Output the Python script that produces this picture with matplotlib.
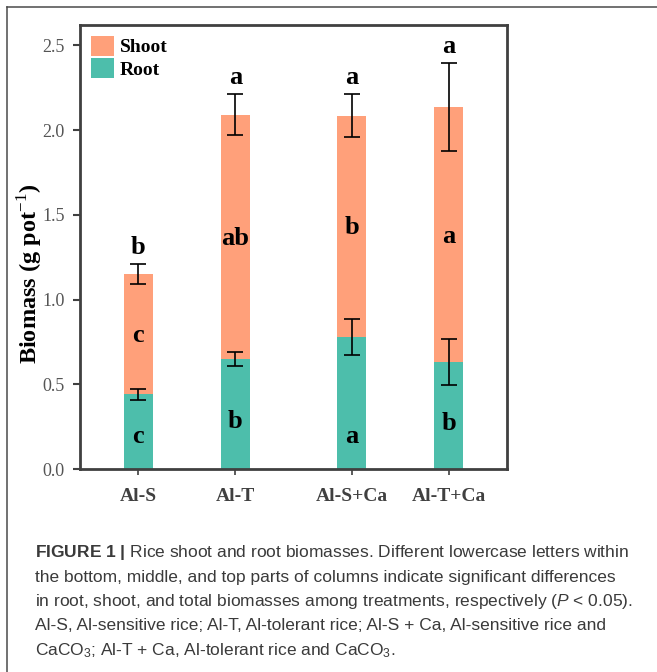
import matplotlib
matplotlib.use("Agg")
import matplotlib.pyplot as plt
from matplotlib.patches import Patch
from matplotlib.lines import Line2D

# Treatments and biomass data (g pot^-1)
treatments = ["Al-S", "Al-T", "Al-S+Ca", "Al-T+Ca"]
root = [0.44, 0.65, 0.78, 0.63]
root_err = [0.03, 0.04, 0.105, 0.135]
total = [1.15, 2.09, 2.085, 2.135]
total_err = [0.06, 0.12, 0.125, 0.26]
root_letters = ["c", "b", "a", "b"]
shoot_letters = ["c", "ab", "b", "a"]
total_letters = ["b", "a", "a", "a"]

shoot = [t - r for t, r in zip(total, root)]

plt.rcParams["mathtext.fontset"] = "custom"
plt.rcParams["mathtext.rm"] = "Liberation Serif"
plt.rcParams["mathtext.sf"] = "Liberation Sans"
plt.rcParams["mathtext.it"] = "Liberation Sans:italic"
plt.rcParams["mathtext.bf"] = "Liberation Sans:bold"

SHOOT_C = "#FFA07A"
ROOT_C = "#4DBEAB"
SERIF = "Liberation Serif"

fig = plt.figure(figsize=(6.57, 6.72), dpi=100)
W, H = 657, 672
ax = fig.add_axes([80 / W, 1 - 469 / H, (507 - 80) / W, (469 - 25) / H])

xpos = [0, 1, 2.2, 3.2]
bw = 0.3
ax.bar(xpos, root, width=bw, color=ROOT_C, zorder=2)
ax.bar(xpos, shoot, width=bw, bottom=root, color=SHOOT_C, zorder=2)
ax.errorbar(xpos, root, yerr=root_err, fmt="none", ecolor="black",
            elinewidth=1.2, capsize=6, capthick=1.2, zorder=3)
ax.errorbar(xpos, total, yerr=total_err, fmt="none", ecolor="black",
            elinewidth=1.2, capsize=6, capthick=1.2, zorder=3)

# heights of the letters drawn inside the root segments
root_lab_y = [0.19, 0.28, 0.19, 0.27]

lab_kw = dict(ha="center", va="center", fontsize=19, fontweight="bold",
              family=SERIF, color="black", zorder=4)
for x, r, t, te, ry, rl, sl, tl in zip(xpos, root, total, total_err, root_lab_y,
                                       root_letters, shoot_letters, total_letters):
    ax.text(x, ry, rl, **lab_kw)
    ax.text(x, (r + t) / 2 - 0.01, sl, **lab_kw)
    ax.text(x, t + te + 0.1, tl, **lab_kw)

ax.set_xlim(-0.6, 3.8)
ax.set_ylim(0, 2.62)
ax.set_yticks([0.0, 0.5, 1.0, 1.5, 2.0, 2.5])
ax.set_yticklabels(["0.0", "0.5", "1.0", "1.5", "2.0", "2.5"],
                   family=SERIF, fontsize=13, color="#555555")
ax.set_xticks(xpos)
ax.set_xticklabels(treatments, family=SERIF, fontsize=14,
                   fontweight="bold", color="#404040")
ax.tick_params(axis="y", direction="out", length=5, width=1.5,
               color="#404040", pad=6)
ax.tick_params(axis="x", direction="out", length=4, width=1.2,
               color="#404040", pad=10)
for s in ax.spines.values():
    s.set_color("#404040")
    s.set_linewidth(2)

ax.set_ylabel(r"Biomass (g pot$^{-1}$)", family=SERIF, fontsize=17.5,
              fontweight="bold")
ax.yaxis.set_label_coords(-36 / 427, 0.44)

handles = [Patch(facecolor=SHOOT_C, label="Shoot"),
           Patch(facecolor=ROOT_C, label="Root")]
leg = ax.legend(handles=handles, loc="upper left", frameon=False,
                prop=dict(family=SERIF, weight="bold", size=14),
                handlelength=1.2, handleheight=1.2, handletextpad=0.3,
                labelspacing=0.1, borderaxespad=0.25, borderpad=0.3)

# outer frame of the figure panel
frame_c = "#4a4a4a"
fig.add_artist(Line2D([7 / W, 7 / W], [0, 1 - 7 / H], transform=fig.transFigure,
                      color=frame_c, lw=1.1))
fig.add_artist(Line2D([7 / W, 1], [1 - 7 / H, 1 - 7 / H], transform=fig.transFigure,
                      color=frame_c, lw=1.1))

# caption
cap_c = "#3a3a3a"
cap_fs = 12.55
cap_kw = dict(family="Liberation Sans", fontsize=cap_fs, color=cap_c,
              va="center", ha="left", transform=fig.transFigure)
lines = [
    r"$\mathbf{FIGURE\ 1\ |}$ Rice shoot and root biomasses. Different lowercase letters within",
    "the bottom, middle, and top parts of columns indicate significant differences",
    r"in root, shoot, and total biomasses among treatments, respectively ($\mathit{P}$ < 0.05).",
    "Al-S, Al-sensitive rice; Al-T, Al-tolerant rice; Al-S + Ca, Al-sensitive rice and",
    r"CaCO$_\mathsf{3}$; Al-T + Ca, Al-tolerant rice and CaCO$_\mathsf{3}$.",
]
y0 = 553
for i, ln in enumerate(lines):
    fig.text(35 / W, 1 - (y0 + i * 24.3) / H, ln, **cap_kw)

fig.savefig("out.png", dpi=100)
